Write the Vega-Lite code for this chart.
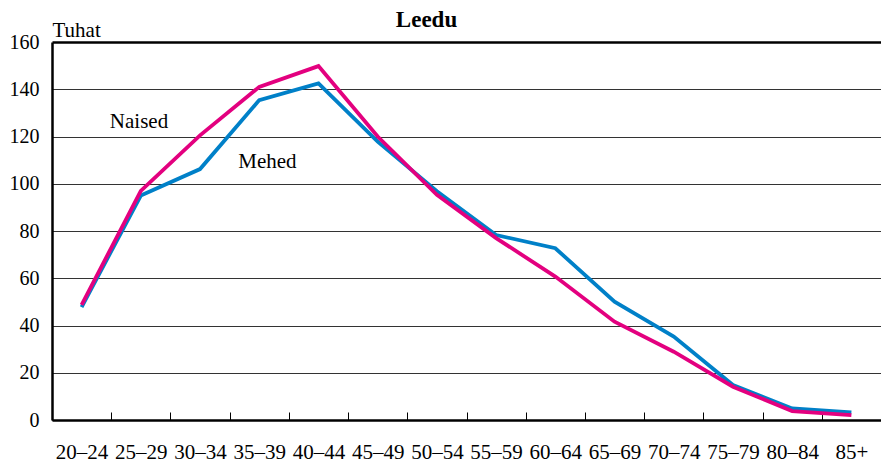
{
  "$schema": "https://vega.github.io/schema/vega-lite/v6.json",
  "width": 829,
  "height": 378,
  "autosize": {"type": "none"},
  "padding": {"left": 52, "top": 42, "right": 0, "bottom": 43},
  "background": "white",
  "config": {
    "font": "Liberation Serif",
    "view": {"stroke": null}
  },
  "title": {
    "text": "Leedu",
    "font": "Liberation Serif",
    "fontSize": 23,
    "fontWeight": "bold",
    "anchor": "middle",
    "baseline": "alphabetic",
    "dx": -40,
    "dy": 31,
    "offset": 0,
    "color": "black"
  },
  "datasets": {
    "pop": [
      {"age": "20–24", "sex": "Mehed", "value": 47.8},
      {"age": "25–29", "sex": "Mehed", "value": 95},
      {"age": "30–34", "sex": "Mehed", "value": 106.2},
      {"age": "35–39", "sex": "Mehed", "value": 135.4},
      {"age": "40–44", "sex": "Mehed", "value": 142.5},
      {"age": "45–49", "sex": "Mehed", "value": 117.8},
      {"age": "50–54", "sex": "Mehed", "value": 96.8},
      {"age": "55–59", "sex": "Mehed", "value": 78.3},
      {"age": "60–64", "sex": "Mehed", "value": 72.7},
      {"age": "65–69", "sex": "Mehed", "value": 50.1},
      {"age": "70–74", "sex": "Mehed", "value": 35.3},
      {"age": "75–79", "sex": "Mehed", "value": 14.8},
      {"age": "80–84", "sex": "Mehed", "value": 4.9},
      {"age": "85+", "sex": "Mehed", "value": 3.2},
      {"age": "20–24", "sex": "Naised", "value": 48.7},
      {"age": "25–29", "sex": "Naised", "value": 97},
      {"age": "30–34", "sex": "Naised", "value": 120.5},
      {"age": "35–39", "sex": "Naised", "value": 141},
      {"age": "40–44", "sex": "Naised", "value": 149.8},
      {"age": "45–49", "sex": "Naised", "value": 120},
      {"age": "50–54", "sex": "Naised", "value": 95.3},
      {"age": "55–59", "sex": "Naised", "value": 77},
      {"age": "60–64", "sex": "Naised", "value": 60.7},
      {"age": "65–69", "sex": "Naised", "value": 41.6},
      {"age": "70–74", "sex": "Naised", "value": 28.9},
      {"age": "75–79", "sex": "Naised", "value": 14.1},
      {"age": "80–84", "sex": "Naised", "value": 3.8},
      {"age": "85+", "sex": "Naised", "value": 2.1}
    ],
    "labels": [
      {"age": "25–29", "value": 123.7, "label": "Naised"},
      {"age": "35–39", "value": 106.5, "label": "Mehed"}
    ]
  },
  "layer": [
    {
      "data": {"name": "pop"},
      "mark": {"type": "line", "strokeWidth": 3.8, "strokeJoin": "miter", "clip": false},
      "encoding": {
        "x": {
          "field": "age",
          "type": "ordinal",
          "sort": null,
          "scale": {"paddingInner": 0, "paddingOuter": 0},
          "axis": {
            "title": null,
            "tickBand": "extent",
            "tickSize": -8,
            "tickColor": "black",
            "tickWidth": 1,
            "domainColor": "black",
            "domainWidth": 2.5,
            "labelAngle": 0,
            "labelFont": "Liberation Serif",
            "labelFontSize": 21,
            "labelColor": "black",
            "labelPadding": 29,
            "labelBaseline": "top",
            "grid": false
          }
        },
        "y": {
          "field": "value",
          "type": "quantitative",
          "scale": {"domain": [0, 160], "nice": false},
          "axis": {
            "title": "Tuhat",
            "titleAngle": 0,
            "titleAlign": "left",
            "titleBaseline": "alphabetic",
            "titleX": 0,
            "titleY": -6,
            "titleFont": "Liberation Serif",
            "titleFontSize": 21,
            "titleFontWeight": "normal",
            "titleColor": "black",
            "values": [0, 20, 40, 60, 80, 100, 120, 140, 160],
            "ticks": false,
            "domainColor": "black",
            "domainWidth": 2.5,
            "labelFont": "Liberation Serif",
            "labelFontSize": 20,
            "labelColor": "black",
            "labelPadding": 13,
            "grid": true,
            "gridColor": {"condition": {"test": "datum.value === 160", "value": "black"}, "value": "#333333"},
            "gridWidth": {"condition": {"test": "datum.value === 160", "value": 2.5}, "value": 1},
            "gridOpacity": 1
          }
        },
        "color": {
          "field": "sex",
          "type": "nominal",
          "scale": {"domain": ["Mehed", "Naised"], "range": ["#0080C8", "#E3007F"]},
          "legend": null
        }
      }
    },
    {
      "data": {"name": "labels"},
      "transform": [{"filter": "datum.label === 'Naised'"}],
      "mark": {"type": "text", "font": "Liberation Serif", "fontSize": 21, "color": "black", "align": "left", "baseline": "alphabetic", "dx": -31},
      "encoding": {
        "x": {"field": "age", "type": "ordinal", "sort": null},
        "y": {"field": "value", "type": "quantitative"},
        "text": {"field": "label"}
      }
    },
    {
      "data": {"name": "labels"},
      "transform": [{"filter": "datum.label === 'Mehed'"}],
      "mark": {"type": "text", "font": "Liberation Serif", "fontSize": 21, "color": "black", "align": "left", "baseline": "alphabetic", "dx": -21},
      "encoding": {
        "x": {"field": "age", "type": "ordinal", "sort": null},
        "y": {"field": "value", "type": "quantitative"},
        "text": {"field": "label"}
      }
    }
  ]
}
